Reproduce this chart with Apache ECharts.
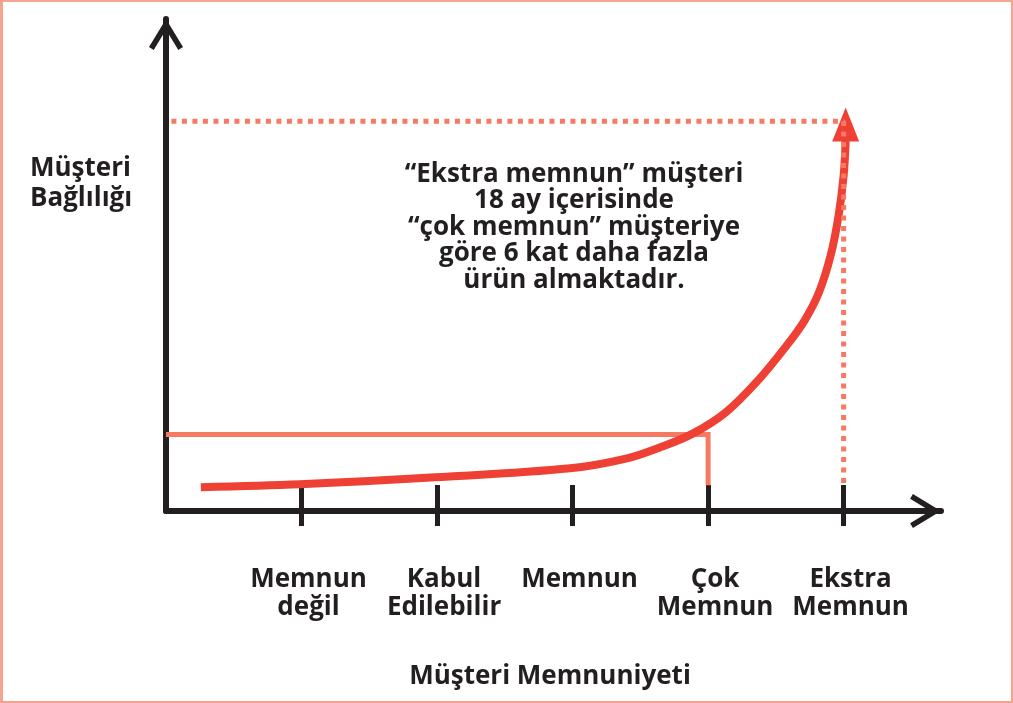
<!DOCTYPE html>
<html>
<head>
<meta charset="utf-8">
<script src="https://cdn.jsdelivr.net/npm/echarts@6/dist/echarts.min.js"></script>
<style>
  html, body { margin: 0; padding: 0; background: #fff; }
  #chart { width: 1013px; height: 703px; box-sizing: border-box; border: 2px solid #f6a48f; border-left-width: 3px; }
</style>
</head>
<body>
<div id="chart"></div>
<script>
// kategori etiketleri (x ekseni)
const categories = ['Memnun\ndeğil', 'Kabul\nEdilebilir', 'Memnun', 'Çok\nMemnun', 'Ekstra\nMemnun']
const tickValues = [1, 2, 3, 4, 5]

// bağlılık eğrisi [memnuniyet, bağlılık]
const loyaltyCurve = [
  [0.257, 6], [0.99, 6.75], [1.986, 8.5], [2.983, 10.75], [3.402, 13.25],
  [3.644, 16], [3.886, 19.5], [4.135, 25], [4.377, 33.25], [4.575, 41.5],
  [4.707, 47.75], [4.817, 55], [4.905, 64.5], [4.963, 74.5], [5.0, 84.5], [5.015, 93.25]
]
// "çok memnun" seviyesi
const veryLevel = [[0, 19.25], [4.0, 19.25], [4.0, 6.5]]
// "ekstra memnun" seviyesi (noktalı)
const extraLevel = [[0.04, 98.25], [5.0, 98.25], [5.0, 6.5]]

const dark = '#231f20'
const red = '#ef4035'
const salmon = '#f57a61'
const font = '"Open Sans", "Noto Sans", sans-serif'

// açık ok ucu (yukarı bakan)
const chevron = 'path://M17,0 L34,28 L29.3,30.85 L17,10.6 L4.7,30.85 L0,28 Z'

const chart = echarts.init(document.getElementById('chart'), null, { renderer: 'canvas' })

chart.setOption({
  animation: false,
  grid: { left: 163, right: 70, top: 17, bottom: 190, outerBoundsMode: 'none' },
  xAxis: [{
    type: 'value',
    min: 0,
    max: 5.7185,
    splitLine: { show: false },
    axisLine: {
      show: true,
      lineStyle: { color: dark, width: 6 },
      symbol: ['none', chevron],
      symbolSize: [34, 31],
      symbolOffset: [0, -15.5]
    },
    axisTick: {
      show: true,
      inside: true,
      length: 26,
      customValues: tickValues,
      lineStyle: { color: dark, width: 5 }
    },
    axisLabel: {
      show: true,
      customValues: tickValues,
      margin: 55,
      formatter: (v) => categories[Math.round(v) - 1] || '',
      color: dark,
      fontFamily: font,
      fontWeight: 'bold',
      fontSize: 26,
      lineHeight: 28,
      padding: [0, 0, 0, 14]
    }
  }, {
    type: 'value',
    min: 0,
    max: 5.7185,
    position: 'bottom',
    splitLine: { show: false },
    axisLine: { show: false },
    axisLabel: { show: false },
    axisTick: {
      show: true,
      inside: false,
      length: 15,
      customValues: tickValues,
      lineStyle: { color: dark, width: 5 }
    }
  }],
  yAxis: {
    type: 'value',
    min: 0,
    max: 124,
    splitLine: { show: false },
    axisTick: { show: false },
    axisLabel: { show: false },
    axisLine: {
      show: true,
      lineStyle: { color: dark, width: 6 },
      symbol: ['none', chevron],
      symbolSize: [34, 31],
      symbolOffset: [0, -15.5]
    }
  },
  series: [{
    type: 'line',
    data: veryLevel,
    showSymbol: false,
    z: 2,
    lineStyle: { color: salmon, width: 5, join: 'miter' }
  }, {
    type: 'line',
    data: loyaltyCurve,
    showSymbol: false,
    smooth: 0.35,
    z: 3,
    lineStyle: { color: red, width: 8 }
  }, {
    type: 'scatter',
    data: [loyaltyCurve[loyaltyCurve.length - 1]],
    symbol: 'triangle',
    symbolSize: [27, 34],
    symbolOffset: [0, -16.5],
    z: 4,
    itemStyle: { color: red, opacity: 1 }
  }, {
    type: 'line',
    data: extraLevel,
    showSymbol: false,
    z: 5,
    lineStyle: { color: salmon, width: 5, type: [5, 5.5] }
  }],
  graphic: [{
    type: 'text',
    left: 27,
    top: 152,
    style: {
      text: 'Müşteri\nBağlılığı',
      fill: dark,
      font: 'bold 26px ' + font,
      lineHeight: 30
    }
  }, {
    type: 'text',
    x: 571,
    y: 159,
    style: {
      text: '“Ekstra memnun” müşteri\n18 ay içerisinde\n“çok memnun” müşteriye\ngöre 6 kat daha fazla\nürün almaktadır.',
      fill: dark,
      font: 'bold 26px ' + font,
      lineHeight: 26.5,
      align: 'center',
      verticalAlign: 'top'
    }
  }, {
    type: 'text',
    x: 547,
    y: 662,
    style: {
      text: 'Müşteri Memnuniyeti',
      fill: dark,
      font: 'bold 26px ' + font,
      align: 'center',
      verticalAlign: 'top'
    }
  }]
})
</script>
</body>
</html>
